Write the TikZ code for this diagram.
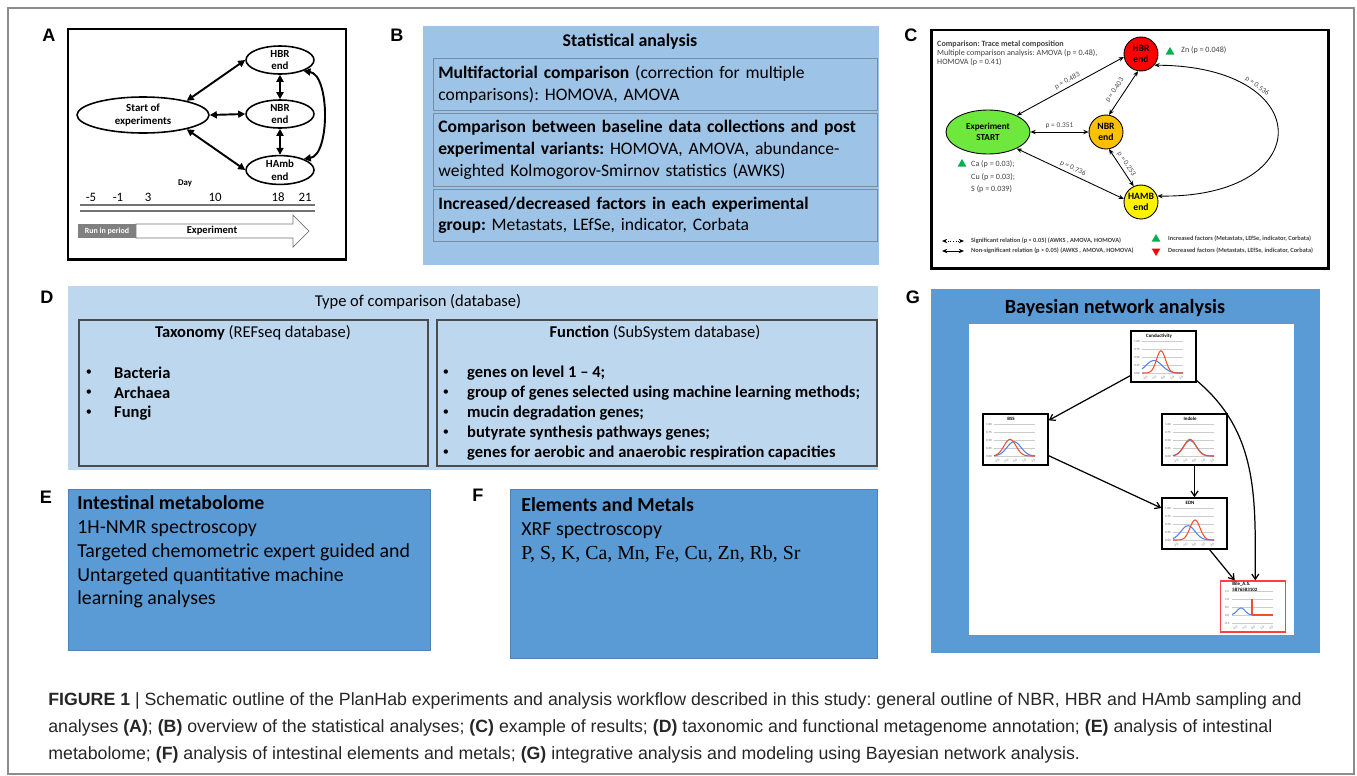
\documentclass[tikz,border=0pt]{standalone}
\usepackage{fontspec}
\setmainfont{Carlito}
\newfontfamily\arialfont{Liberation Sans}
\newfontfamily\timesfont{Liberation Serif}
\usetikzlibrary{shapes.geometric,arrows.meta}
\frenchspacing
\definecolor{panelblue}{RGB}{91,155,213}
\definecolor{statblue}{RGB}{157,195,230}
\definecolor{statedge}{RGB}{120,140,165}
\definecolor{typeblue}{RGB}{189,215,238}
\definecolor{startgreen}{RGB}{110,232,60}
\definecolor{nbrorange}{RGB}{255,192,0}
\definecolor{markgreen}{RGB}{0,176,80}
\definecolor{curveblue}{RGB}{80,130,240}
\definecolor{curvered}{RGB}{240,80,50}

\newcommand\bnchart[8]{%
  \node[chartbox] (#1) at (#2+32.5,#3+25.5) {};
  \begin{scope}[shift={(#2,#3)}]
    \node[charttitle] (#1title) at (28,5) {#4};
    \foreach \v [count=\i from 0] in {1.00,0.75,0.50,0.25,0.00} {
      \draw[chartgrid] (11,10+8*\i) -- (52,10+8*\i);
      \node[chartlabel] (#1y\i) at (6,10+8*\i) {\v};
    }
    \foreach \v [count=\i from 0] in {-2.0,-1.0,0.0,1.0,2.0}
      \node[chartlabel, rotate=30] (#1x\i) at (14+9*\i,47) {\v};
    \draw[chartblue] plot[domain=11:52, samples=42] (\x,{42-100/#6*exp(-((\x-#5)^2)/(2*#6*#6))});
    \draw[chartred] plot[domain=11:52, samples=42] (\x,{42-100/#8*exp(-((\x-#7)^2)/(2*#8*#8))});
  \end{scope}}

\begin{document}
\begin{tikzpicture}[
  x=0.02cm, y=-0.02cm,
  panellabel/.style={font=\arialfont\fontsize{10.3}{12}\selectfont\bfseries},
  aellipse/.style={ellipse, draw, line width=0.9pt, minimum width=1.36cm, minimum height=0.52cm, inner sep=0pt, align=center, font=\fontsize{6.2}{7.2}\selectfont\bfseries},
  abiarrow/.style={<->, >={Triangle[length=4pt,width=4pt]}, line width=1.1pt},
  daynum/.style={font=\fontsize{7.3}{8}\selectfont},
  btext/.style={font=\fontsize{10.2}{12.3}\selectfont},
  bsub/.style={draw=statedge, fill=statblue, anchor=north west, minimum width=8.88cm, inner xsep=0.1cm, text width=8.68cm, align=left, font=\fontsize{10}{12.3}\selectfont},
  ctext/.style={font=\fontsize{4.6}{5.1}\selectfont, text=black!75, inner sep=0.5pt},
  ccircle/.style={circle, draw, line width=0.5pt, minimum size=0.68cm, inner sep=0pt, align=center, font=\fontsize{5.5}{6.4}\selectfont\bfseries},
  cstart/.style={ellipse, draw, line width=0.5pt, fill=startgreen, minimum width=1.68cm, minimum height=0.88cm, inner sep=0pt, align=center, font=\fontsize{5.2}{6.2}\selectfont\bfseries},
  cbiarrow/.style={<->, >={Stealth[length=3pt,width=2.5pt]}, line width=0.5pt},
  plabel/.style={font=\fontsize{4.2}{5}\selectfont, text=black!70, inner sep=1.5pt},
  uptri/.style={regular polygon, regular polygon sides=3, fill=markgreen, minimum size=0.2cm, inner sep=0pt},
  downtri/.style={regular polygon, regular polygon sides=3, shape border rotate=180, fill=red, minimum size=0.2cm, inner sep=0pt},
  legtext/.style={font=\fontsize{3.6}{4.3}\selectfont\bfseries, text=black!75, inner sep=0.5pt, anchor=west},
  dtext/.style={font=\fontsize{9.4}{11.3}\selectfont},
  dbullet/.style={font=\fontsize{7}{8}\selectfont},
  dbox/.style={draw=black!70, line width=0.6pt},
  etext/.style={font=\fontsize{11.3}{13.6}\selectfont, anchor=north west, align=left, inner sep=0pt},
  gtitle/.style={font=\fontsize{11.5}{13}\selectfont\bfseries},
  chartbox/.style={rectangle, draw, line width=0.8pt, fill=white, minimum width=1.3cm, minimum height=1.02cm, inner sep=0pt},
  charttitle/.style={font=\fontsize{2.8}{3.2}\selectfont\bfseries, inner sep=0pt},
  chartlabel/.style={font=\fontsize{1.8}{2}\selectfont, text=black!60, inner sep=0pt},
  chartgrid/.style={black!20, line width=0.2pt},
  chartblue/.style={curveblue, line width=0.6pt},
  chartred/.style={curvered, line width=0.6pt},
  garrow/.style={-{Straight Barb[length=3pt,width=4pt]}, line width=0.7pt},
  captext/.style={font=\arialfont\fontsize{10.1}{12}\selectfont, text=black!85, anchor=west, inner sep=0pt}
]
\useasboundingbox (0,0) rectangle (1357,775);
\draw[black!45, line width=0.6pt] (8,8) rectangle (1354,774);

% A
\node[panellabel] (labA) at (49,35) {A};
\draw[line width=1.7pt] (68,29) rectangle (346,259);
\node[aellipse, minimum width=2.64cm, minimum height=0.72cm] (start) at (143,115) {Start of\\experiments};
\node[aellipse] (hbr) at (280,60) {HBR\\end};
\node[aellipse] (nbr) at (280,114) {NBR\\end};
\node[aellipse] (hamb) at (280,170) {HAmb\\end};
\draw[abiarrow] (start.18) -- (hbr.west);
\draw[abiarrow] (start.east) -- (nbr.west);
\draw[abiarrow] (start.-18) -- (hamb.west);
\draw[abiarrow] (hbr.south) -- (nbr.north);
\draw[abiarrow] (nbr.south) -- (hamb.north);
\draw[abiarrow] (hbr.-25) .. controls (330,75) and (330,155) .. (hamb.25);
\node[font=\fontsize{5}{6}\selectfont\bfseries] (day) at (185,183) {Day};
\foreach \d/\x [count=\i] in {-5/91,-1/118,3/148,10/215,18/278,21/305}
  \node[daynum] (day\i) at (\x,197) {\d};
\draw[black!55, line width=0.6pt] (80,205) -- (315,205) (80,211) -- (315,211);
\draw[black!55, fill=white] (136,224) -- (293,224) -- (293,215) -- (309,231) -- (293,247) -- (293,238) -- (136,238) -- cycle;
\node[fill=black!50, minimum width=1.16cm, minimum height=0.28cm, inner sep=0pt, text=white, font=\fontsize{4.5}{5}\selectfont\bfseries] (runin) at (107,231) {Run in period};
\node[font=\fontsize{6}{7}\selectfont\bfseries] (expt) at (212,231) {Experiment};

% B
\node[panellabel] (labB) at (397,35) {B};
\fill[statblue] (423,26) rectangle (879,265);
\node[btext, font=\fontsize{10.2}{12.3}\selectfont\bfseries] (btitle) at (630,42) {Statistical analysis};
\node[bsub, minimum height=1.04cm] (b1) at (433,58) {\textbf{Multifactorial comparison} (correction for multiple\\comparisons): HOMOVA, AMOVA};
\node[bsub, minimum height=1.46cm] (b2) at (433,113) {\textbf{Comparison between baseline data collections and post}\\\textbf{experimental variants:} HOMOVA, AMOVA, abundance-\\weighted Kolmogorov-Smirnov statistics (AWKS)};
\node[bsub, minimum height=1.04cm] (b3) at (433,189) {\textbf{Increased/decreased factors in each experimental}\\\textbf{group:} Metastats, LEfSe, indicator, Corbata};

% C
\node[panellabel] (labC) at (911,35) {C};
\draw[line width=1.7pt] (931,30) rectangle (1328,268);
\node[ctext, anchor=north west, align=left] (ctitle) at (936,40) {\textbf{Comparison: Trace metal composition}\\Multiple comparison analysis: AMOVA (p = 0.48),\\HOMOVA (p = 0.41)};
\node[ccircle, fill=red] (chbr) at (1141,54) {HBR\\end};
\node[ccircle, fill=nbrorange] (cnbr) at (1106,132) {NBR\\end};
\node[ccircle, fill=yellow] (chamb) at (1141,202) {HAMB\\end};
\node[cstart] (cstart) at (988,132) {Experiment\\START};
\draw[cbiarrow] (cstart.30) -- node[plabel, above, sloped] {p = 0.483} (chbr.190);
\draw[cbiarrow] (cnbr.80) -- node[plabel, above=1.5pt, sloped, pos=0.45] {p = 0.403} (chbr.-100);
\draw[cbiarrow] (cstart.east) -- node[plabel, above] {p = 0.351} (cnbr.west);
\draw[cbiarrow] (cstart.-30) -- node[plabel, above, sloped] {p = 0.736} (chamb.170);
\draw[cbiarrow] (cnbr.-80) -- node[plabel, above, sloped] {p = 0.253} (chamb.115);
\draw[cbiarrow] (chbr.-40) .. controls (1318,66) and (1318,198) .. node[plabel, above, sloped, pos=0.28] {p = 0.536} (chamb.20);
\node[uptri] (znmark) at (1170,52) {};
\node[ctext, anchor=west] (zn) at (1180,50) {Zn (p = 0.048)};
\node[uptri] (camark) at (962,164) {};
\node[ctext, anchor=west] (ca) at (970,164) {Ca (p = 0.03);};
\node[ctext, anchor=west] (cu) at (970,177) {Cu (p = 0.03);};
\node[ctext, anchor=west] (sul) at (970,189) {S (p = 0.039)};
\coordinate (sigA) at (942,241);
\coordinate (sigB) at (964,241);
\coordinate (nonA) at (942,251);
\coordinate (nonB) at (964,251);
\draw[cbiarrow, densely dotted] (sigA) -- (sigB);
\draw[cbiarrow] (nonA) -- (nonB);
\node[legtext] (sigtext) at (970,241) {Significant relation (p < 0.05) (AWKS , AMOVA, HOMOVA)};
\node[legtext] (nontext) at (970,251) {Non-significant relation (p > 0.05) (AWKS , AMOVA, HOMOVA)};
\node[uptri] (incmark) at (1156,239) {};
\node[legtext] (inctext) at (1167,239) {Increased factors (Metastats, LEfSe, indicator, Corbata)};
\node[downtri] (decmark) at (1156,251) {};
\node[legtext] (dectext) at (1167,251) {Decreased factors (Metastats, LEfSe, indicator, Corbata)};

% D
\node[panellabel] (labD) at (47,297) {D};
\fill[typeblue] (68,286) rectangle (878,470);
\node[dtext] (dtitle) at (418,302) {Type of comparison (database)};
\draw[dbox] (79,320) rectangle (428,466);
\draw[dbox] (437,320) rectangle (877,466);
\node[dtext] (taxo) at (253,333) {\textbf{Taxonomy} (REFseq database)};
\node[dtext] (func) at (655,333) {\textbf{Function} (SubSystem database)};
\foreach \t [count=\i] in {Bacteria,Archaea,Fungi} {
  \node[dbullet] (tb\i) at (89,353+20*\i) {\textbullet};
  \node[dtext, anchor=west, font=\fontsize{9.4}{11.3}\selectfont\bfseries] (tx\i) at (108,353+20*\i) {\t};
}
\foreach \t [count=\i] in {genes on level 1 -- 4;,group of genes selected using machine learning methods;,mucin degradation genes;,butyrate synthesis pathways genes;,genes for aerobic and anaerobic respiration capacities} {
  \node[dbullet] (fb\i) at (446,353+20*\i) {\textbullet};
  \node[dtext, anchor=west, font=\fontsize{9.4}{11.3}\selectfont\bfseries] (fx\i) at (461,353+20*\i) {\t};
}

% E
\node[panellabel] (labE) at (46,497) {E};
\draw[panelblue!85!black, fill=panelblue] (68,489) rectangle (430,650);
\node[etext] (etext) at (77,495) {\textbf{Intestinal metabolome}\\1H-NMR spectroscopy\\Targeted chemometric expert guided and\\Untargeted quantitative machine\\learning analyses};

% F
\node[panellabel] (labF) at (478,495) {F};
\draw[panelblue!85!black, fill=panelblue] (510,489) rectangle (877,658);
\node[etext] (ftext) at (521,497) {\textbf{Elements and Metals}\\XRF spectroscopy\\{\timesfont P, S, K, Ca, Mn, Fe, Cu, Zn, Rb, Sr}};

% G
\node[panellabel] (labG) at (913,297) {G};
\fill[panelblue] (931,289) rectangle (1320,653);
\node[gtitle] (gtitle) at (1115,308) {Bayesian network analysis};
\fill[white] (969,324) rectangle (1294,635);
\bnchart{cond}{1131}{331}{Conductivity}{23}{8}{30}{4.5}
\bnchart{bss}{983}{414}{BSS}{31}{7}{27}{6}
\bnchart{indole}{1162}{414}{Indole}{28}{6.5}{28}{6}
\bnchart{edn}{1162}{498}{EDN}{26}{7}{33}{5}
\node[chartbox, draw=red!75, line width=0.7pt] (bile) at (1253,606.5) {};
\begin{scope}[shift={(1221,581)}]
  \node[charttitle, anchor=north west, align=left] (biletitle) at (11,1) {Bile\_A.S.\\5876583102};
  \foreach \v [count=\i from 0] in {1.5,1.0,0.5,0.0,-0.5} {
    \draw[chartgrid] (11,10+8*\i) -- (52,10+8*\i);
    \node[chartlabel] (biley\i) at (6,10+8*\i) {\v};
  }
  \foreach \v [count=\i from 0] in {-2.0,-1.0,0.0,1.0,2.0}
    \node[chartlabel, rotate=30] (bilex\i) at (14+9*\i,47) {\v};
  \draw[chartblue] plot[domain=11:31, samples=30] (\x,{34-7*exp(-((\x-20)^2)/(2*16))});
  \draw[chartred, line width=0.8pt] (31,34) -- (31,18) (31,34) -- (52,34);
\end{scope}
\draw[garrow] (cond.210) -- (bss.30);
\draw[garrow] (cond.-36) to[out=-40, in=90] (bile.85);
\draw[garrow] (bss.-26) -- (edn.155);
\draw[garrow] (indole.south) -- (edn.north);
\draw[garrow] (edn.-60) -- (bile.125);

% caption
\node[captext] (cap1) at (48,701) {\textbf{FIGURE 1} | Schematic outline of the PlanHab experiments and analysis workflow described in this study: general outline of NBR, HBR and HAmb sampling and};
\node[captext] (cap2) at (48,728) {analyses \textbf{(A)}; \textbf{(B)} overview of the statistical analyses; \textbf{(C)} example of results; \textbf{(D)} taxonomic and functional metagenome annotation; \textbf{(E)} analysis of intestinal};
\node[captext] (cap3) at (48,755) {metabolome; \textbf{(F)} analysis of intestinal elements and metals; \textbf{(G)} integrative analysis and modeling using Bayesian network analysis.};
\end{tikzpicture}
\end{document}
